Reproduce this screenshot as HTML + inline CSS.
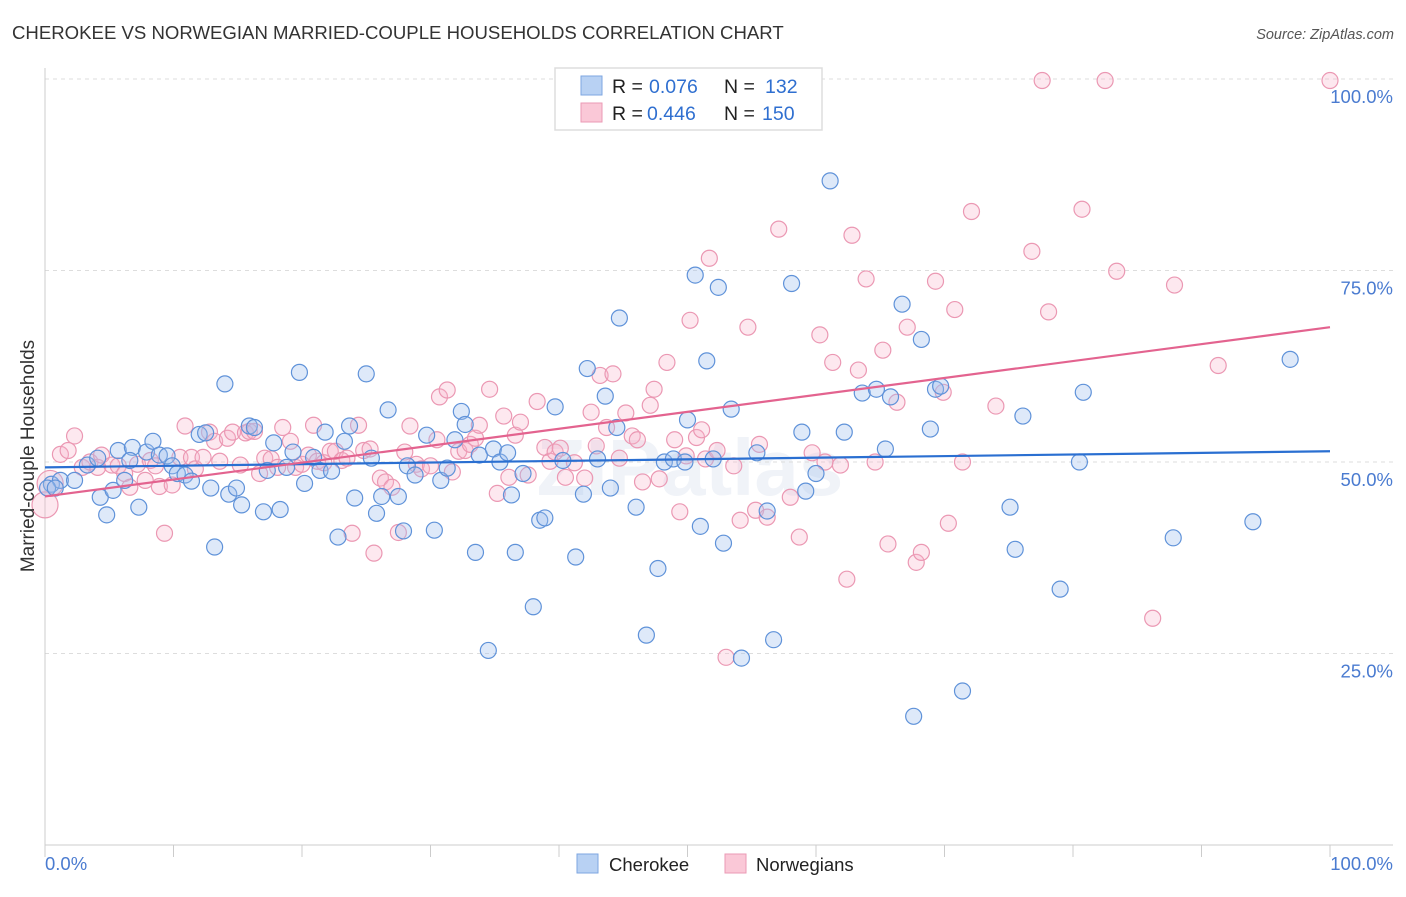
<!DOCTYPE html>
<html><head><meta charset="utf-8">
<style>
body{margin:0;background:#fff;font-family:"Liberation Sans",sans-serif;}
svg text{font-family:"Liberation Sans",sans-serif;}
</style></head>
<body>
<svg id="chart" width="1406" height="892" viewBox="0 0 1406 892">
<text x="12" y="39" font-size="18.6" fill="#333">CHEROKEE VS NORWEGIAN MARRIED-COUPLE HOUSEHOLDS CORRELATION CHART</text>
<text x="1394" y="39" font-size="14.5" font-style="italic" fill="#555" text-anchor="end">Source: ZipAtlas.com</text>
<text x="690" y="495" font-size="80" font-weight="bold" fill="#f0f3f8" text-anchor="middle">ZIPatlas</text>
<g id="grid"></g>
<g id="axes"></g>
<g id="pts"></g>
<g id="trend"></g>
<text transform="translate(34,456) rotate(-90)" font-size="19" fill="#333" text-anchor="middle">Married-couple Households</text>
<text x="45" y="870" font-size="18.5" fill="#4a7bd0">0.0%</text>
<text x="1393" y="870" font-size="18.5" fill="#4a7bd0" text-anchor="end">100.0%</text>
<g>
<rect x="555" y="68" width="267" height="62" fill="#fff" stroke="#ddd" stroke-width="1.5"/>
<rect x="581" y="76" width="21" height="19" fill="#b8d1f3" stroke="#7ea6e0"/>
<rect x="581" y="103" width="21" height="19" fill="#fac8d7" stroke="#eb9ab4"/>
<text x="612" y="93" font-size="19.5" fill="#222">R = <tspan x="649" fill="#2f6fd0">0.076</tspan><tspan x="724">N = </tspan><tspan x="765" fill="#2f6fd0">132</tspan></text>
<text x="612" y="120" font-size="19.5" fill="#222">R = <tspan x="647" fill="#2f6fd0">0.446</tspan><tspan x="724">N = </tspan><tspan x="762" fill="#2f6fd0">150</tspan></text>
</g>
<g>
<rect x="577" y="854" width="21" height="19" fill="#b8d1f3" stroke="#7ea6e0"/>
<text x="609" y="871" font-size="18.5" fill="#222">Cherokee</text>
<rect x="725" y="854" width="21" height="19" fill="#fac8d7" stroke="#eb9ab4"/>
<text x="756" y="871" font-size="18.5" fill="#222">Norwegians</text>
</g>
</svg>
<script>
const yTicks=[25,50,75,100];
const yTickLabels=["25.0%","50.0%","75.0%","100.0%"];
const xTicks=[0,10,20,30,40,50,60,70,80,90,100];
const blueX=[0.5,1.2,2.3,3.3,4.3,4.8,5.3,5.7,6.2,6.8,7.3,7.9,8.4,8.9,9.5,9.9,10.3,10.9,11.4,12.0,12.5,12.9,13.2,14.0,14.3,14.9,15.3,15.9,16.3,17.0,17.3,17.8,18.3,18.8,19.3,19.8,20.2,20.9,21.4,21.8,22.3,22.8,23.3,23.7,24.1,25.0,25.4,25.8,26.2,26.7,27.5,27.9,28.2,28.8,29.7,30.3,30.8,31.3,31.9,32.4,32.7,33.5,33.8,34.5,34.9,35.4,36.0,36.3,36.6,37.2,38.0,38.5,38.9,39.7,40.3,41.3,41.9,42.2,43.0,43.6,44.0,44.5,44.7,46.0,46.8,47.7,48.2,48.9,49.8,50.0,50.6,51.0,51.5,52.0,52.4,52.8,53.4,54.2,55.4,56.2,56.7,58.1,58.9,59.2,60.0,61.1,62.2,63.6,64.7,65.4,65.8,66.7,67.6,68.2,68.9,69.3,69.7,71.4,75.1,75.5,76.1,79.0,80.5,80.8,87.8,94.0,96.9,0.2,0.8,4.1,6.6];
const blueY=[47.1,47.6,47.6,49.6,45.4,43.1,46.3,51.5,47.6,51.9,44.1,51.3,52.7,50.9,50.8,49.5,48.5,48.3,47.5,53.6,53.8,46.6,38.9,60.2,45.8,46.6,44.4,54.7,54.5,43.5,48.9,52.5,43.8,49.3,51.3,61.7,47.2,50.6,48.9,53.9,48.8,40.2,52.7,54.7,45.3,61.5,50.5,43.3,45.5,56.8,45.5,41.0,49.5,48.3,53.5,41.1,47.6,49.2,52.9,56.6,54.9,38.2,50.9,25.4,51.7,50.0,51.2,45.7,38.2,48.5,31.1,42.4,42.7,57.2,50.2,37.6,45.8,62.2,50.4,58.6,46.6,54.5,68.8,44.1,27.4,36.1,50.0,50.4,50.0,55.5,74.4,41.6,63.2,50.4,72.8,39.4,56.9,24.4,51.2,43.6,26.8,73.3,53.9,46.2,48.5,86.7,53.9,59.0,59.5,51.7,58.5,70.6,16.8,66.0,54.3,59.5,59.9,20.1,44.1,38.6,56.0,33.4,50.0,59.1,40.1,42.2,63.4,46.6,46.6,50.5,50.2];
const pinkX=[0,0.4,1.2,1.8,2.3,2.9,3.5,4.1,4.4,5.2,5.7,6.2,6.6,7.2,7.8,8.2,8.6,8.9,9.3,9.9,10.5,10.9,11.4,11.7,12.3,12.8,13.2,13.6,14.2,14.6,15.2,15.6,15.9,16.3,16.7,17.1,17.6,18.1,18.5,19.1,19.5,20.0,20.5,20.9,21.2,21.7,22.2,22.6,23.1,23.5,23.9,24.4,24.8,25.3,25.6,26.1,26.5,27.0,27.5,28.0,28.4,28.9,29.3,30.0,30.5,30.7,31.3,31.7,32.2,32.7,33.1,33.5,33.8,34.6,35.2,35.7,36.1,36.6,37.0,37.6,38.3,38.9,39.3,39.7,40.1,40.5,41.2,42.0,42.5,42.9,43.2,43.7,44.2,44.7,45.2,45.7,46.1,46.5,47.1,47.4,47.8,48.4,49.0,49.4,49.9,50.2,50.7,51.1,51.4,51.7,52.3,53.0,53.6,54.1,54.7,55.3,55.6,56.2,57.1,58.0,58.7,59.7,60.3,60.7,61.3,61.9,62.4,62.8,63.3,63.9,64.6,65.2,65.6,66.3,67.1,67.8,68.2,69.3,69.9,70.3,70.8,71.4,72.1,74.0,76.8,77.6,78.1,80.7,82.5,83.4,86.2,87.9,91.3,100];
const pinkY=[44.4,47.2,51.0,51.5,53.4,49.3,50.0,49.3,50.9,49.6,49.5,48.5,46.7,49.7,47.6,50.2,49.5,46.8,40.7,47.0,50.6,54.7,50.6,49.1,50.6,53.9,52.7,50.1,53.1,53.9,49.6,53.8,54.0,54.0,48.5,50.5,50.4,49.3,54.5,52.7,49.3,49.7,50.9,54.8,50.1,49.9,51.4,51.4,50.2,50.5,40.7,54.8,51.5,51.7,38.1,47.9,47.4,46.7,40.8,51.3,54.7,49.7,49.1,49.5,52.9,58.5,59.4,48.7,51.4,51.5,52.3,53.1,54.8,59.5,45.9,56.0,48.0,53.5,55.2,48.3,57.9,51.9,50.1,51.3,51.8,48.0,49.9,47.9,56.5,52.1,61.3,54.5,61.5,50.5,56.4,53.4,52.9,47.4,57.4,59.5,47.8,63.0,52.9,43.5,50.8,68.5,53.2,54.2,50.4,76.6,51.5,24.5,49.5,42.4,67.6,43.7,52.3,42.8,80.4,45.4,40.2,51.2,66.6,50.0,63.0,49.6,34.7,79.6,62.0,73.9,50.0,64.6,39.3,57.8,67.6,36.9,38.2,73.6,59.1,42.0,69.9,50.0,82.7,57.3,77.5,99.8,69.6,83.0,99.8,74.9,29.6,73.1,62.6,99.8];
const blueTrend=[49.3,51.4];
const pinkTrend=[45.5,67.6];

const NS="http://www.w3.org/2000/svg";
const X0=45,X1=1330,Y0=845,Y100=79;
const sx=v=>X0+(X1-X0)*v/100;
const sy=v=>Y0-(Y0-Y100)*v/100;
function mk(tag,attrs,parent){const e=document.createElementNS(NS,tag);for(const k in attrs)e.setAttribute(k,attrs[k]);parent.appendChild(e);return e;}
const grid=document.getElementById('grid'),axes=document.getElementById('axes'),pts=document.getElementById('pts'),trend=document.getElementById('trend');
yTicks.forEach((t,i)=>{
  const l=mk('line',{x1:X0,x2:1393,y1:sy(t),y2:sy(t),stroke:'#ddd','stroke-dasharray':'4,4'},grid);
  
  
  const tx=mk('text',{x:1393,y:sy(t)+24,'font-size':18.5,fill:'#4a7bd0','text-anchor':'end'},grid);
  tx.textContent=yTickLabels[i];
  
  
});
const ya=mk('line',{x1:X0,x2:X0,y1:68,y2:Y0,stroke:'#ccc'},axes);


const xa=mk('line',{x1:X0,x2:1393,y1:Y0,y2:Y0,stroke:'#ccc'},axes);


xTicks.forEach(t=>{
  const l=mk('line',{x1:sx(t),x2:sx(t),y1:Y0,y2:Y0+12,stroke:'#ccc'},axes);
  
  
});
function dots(xs,ys,fill,stroke,name){
  xs.forEach((x,i)=>{
    const r=(x<0.5&&name==='norwegians-point')?13:8;
    const c=mk('circle',{cx:sx(x),cy:sy(ys[i]),r:r,fill:fill,stroke:stroke,'stroke-width':1.2},pts);
    
    
  });
}
dots(pinkX,pinkY,'rgba(247,180,202,0.3)','#eb98b3','norwegians-point');
dots(blueX,blueY,'rgba(160,192,238,0.35)','#5f92d9','cherokee-point');
const bl=mk('line',{x1:sx(0),x2:sx(100),y1:sy(blueTrend[0]),y2:sy(blueTrend[1]),stroke:'#2a6fd1','stroke-width':2.2},trend);


const pl=mk('line',{x1:sx(0),x2:sx(100),y1:sy(pinkTrend[0]),y2:sy(pinkTrend[1]),stroke:'#e3638f','stroke-width':2.2},trend);


</script>
</body></html>
